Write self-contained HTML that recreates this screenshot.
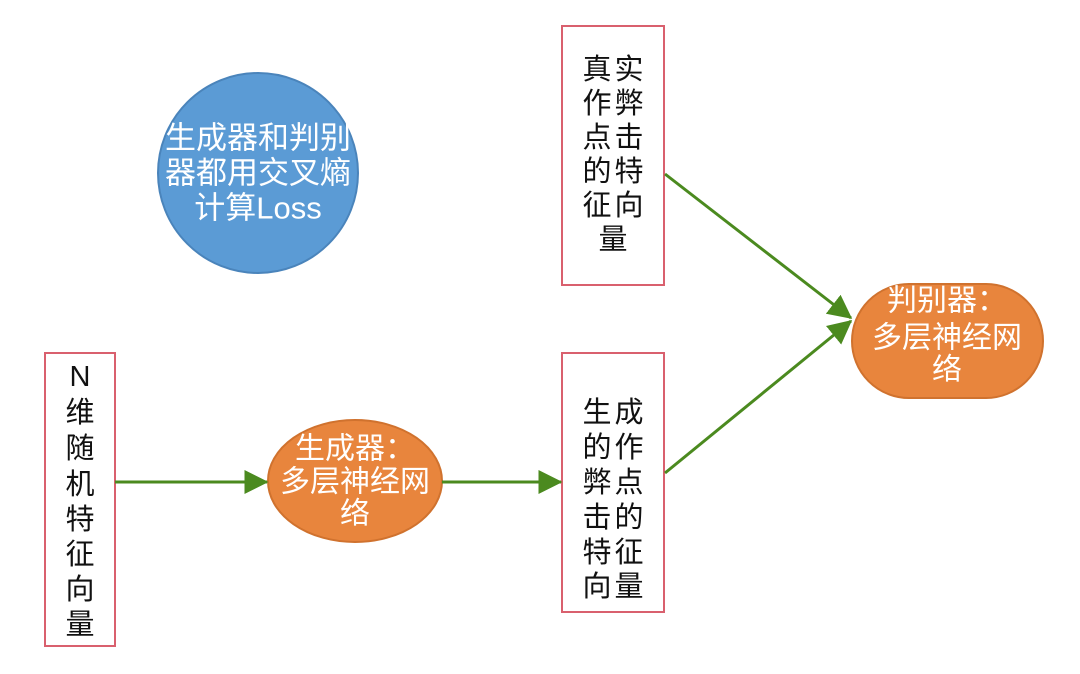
<!DOCTYPE html>
<html><head><meta charset="utf-8"><style>
html,body{margin:0;padding:0;background:#fff;}
svg{display:block;}
text{font-family:"Liberation Sans","Noto Sans CJK SC",sans-serif;}
</style></head><body>
<svg width="1080" height="674" viewBox="0 0 1080 674" xmlns="http://www.w3.org/2000/svg">
<defs>
<marker id="ah" markerWidth="8" markerHeight="8" refX="7.5" refY="4" orient="auto" markerUnits="strokeWidth">
<path d="M0,0 L8,4 L0,8 z" fill="#4b8a1f"/>
</marker>
</defs>
<rect width="1080" height="674" fill="#fff"/>
<circle cx="258" cy="173" r="100" fill="#5b9bd5" stroke="#4a84bb" stroke-width="2"/>
<g fill="#fff" font-size="31" text-anchor="middle" dominant-baseline="central">
<text x="258" y="138">生成器和判别</text>
<text x="258" y="173">器都用交叉熵</text>
<text x="258" y="208">计算Loss</text>
</g>
<g fill="#fff" stroke="#d9606e" stroke-width="2">
<rect x="562" y="26" width="102" height="259"/>
<rect x="562" y="353" width="102" height="259"/>
<rect x="45" y="353" width="70" height="293"/>
</g>
<g fill="#111" font-size="29" text-anchor="middle" dominant-baseline="central">
<text x="597" y="70">真</text><text x="629" y="70">实</text>
<text x="597" y="104">作</text><text x="629" y="104">弊</text>
<text x="597" y="138">点</text><text x="629" y="138">击</text>
<text x="597" y="172">的</text><text x="629" y="172">特</text>
<text x="597" y="206">征</text><text x="629" y="206">向</text>
<text x="613" y="240">量</text>

<text x="597" y="413">生</text><text x="629" y="413">成</text>
<text x="597" y="448">的</text><text x="629" y="448">作</text>
<text x="597" y="483">弊</text><text x="629" y="483">点</text>
<text x="597" y="518">击</text><text x="629" y="518">的</text>
<text x="597" y="553">特</text><text x="629" y="553">征</text>
<text x="597" y="587">向</text><text x="629" y="587">量</text>

<text x="80" y="377">N</text>
<text x="80" y="413">维</text>
<text x="80" y="449">随</text>
<text x="80" y="485">机</text>
<text x="80" y="520">特</text>
<text x="80" y="555">征</text>
<text x="80" y="590">向</text>
<text x="80" y="625">量</text>
</g>
<ellipse cx="355" cy="481" rx="87" ry="61" fill="#e8853d" stroke="#d0722e" stroke-width="2"/>
<rect x="852" y="284" width="191" height="114" rx="57" ry="57" fill="#e8853d" stroke="#d0722e" stroke-width="2"/>
<g fill="#fff" font-size="30" text-anchor="middle" dominant-baseline="central">
<text x="355" y="449">生成器：</text>
<text x="355" y="482">多层神经网</text>
<text x="355" y="514">络</text>
<text x="947" y="301">判别器：</text>
<text x="947" y="338">多层神经网</text>
<text x="947" y="370">络</text>
</g>
<g stroke="#4b8a1f" stroke-width="3" fill="none" marker-end="url(#ah)">
<line x1="115" y1="482" x2="267" y2="482"/>
<line x1="442" y1="482" x2="561" y2="482"/>
<line x1="665" y1="174" x2="851" y2="318"/>
<line x1="665" y1="473" x2="851" y2="321"/>
</g>
</svg>
</body></html>
